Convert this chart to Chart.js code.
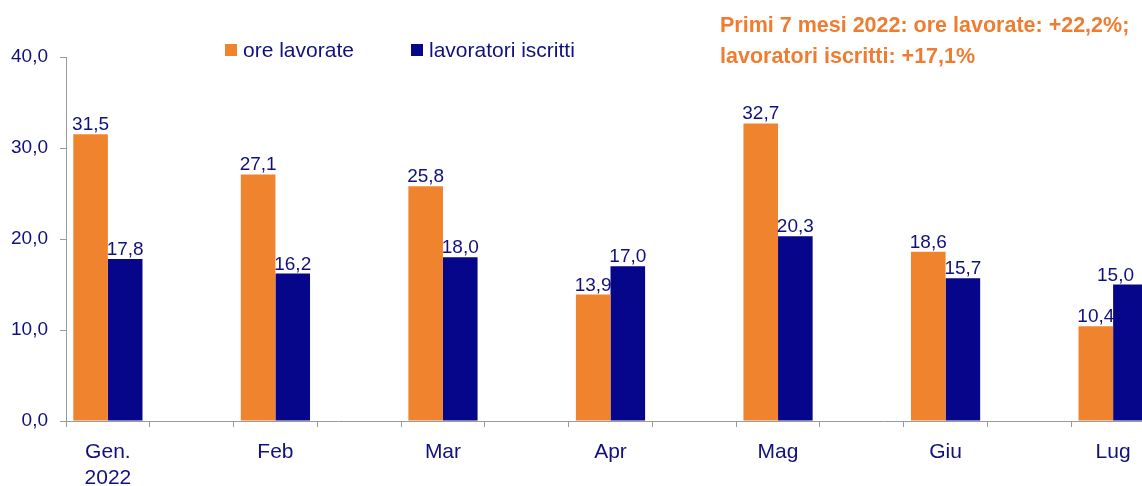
<!DOCTYPE html>
<html>
<head>
<meta charset="utf-8">
<script src="https://cdn.jsdelivr.net/npm/chart.js@4"></script>
<style>
  html, body { margin: 0; padding: 0; background: #fff; overflow: hidden; }
  #wrap { width: 1155px; height: 486px; }
</style>
</head>
<body>
<div id="wrap"><canvas id="myChart" width="1155" height="486"></canvas></div>
<script>
// months shown on the axis
const months = [['Gen.', '2022'], 'Feb', 'Mar', 'Apr', 'Mag', 'Giu', 'Lug'];
// variazioni % tendenziali
const oreLavorate = [31.5, 27.1, 25.8, 13.9, 32.7, 18.6, 10.4];
const lavoratoriIscritti = [17.8, 16.2, 18.0, 17.0, 20.3, 15.7, 15.0];
const yTicks = [0, 10, 20, 30, 40];

const noteLines = [
  'Primi 7 mesi 2022: ore lavorate: +22,2%;',
  'lavoratori iscritti: +17,1%'
];

const ORANGE = '#F0842E';
const BLUE = '#06068A';
const NAVY = '#10107E';
const FONT = "'Liberation Sans', Arial, sans-serif";
const VISIBLE_W = 1142; // window width, the plot runs past it

// every month is followed by an empty slot (the excel chart leaves a gap)
function spread(arr, empty) {
  const out = [];
  arr.forEach((v, i) => {
    out.push(v);
    if (i < arr.length - 1) out.push(empty);
  });
  return out;
}

const fmt = v => v.toFixed(1).replace('.', ',');

const labelsPlugin = {
  id: 'valueLabels',
  afterDatasetsDraw(chart) {
    const ctx = chart.ctx;
    ctx.save();
    ctx.font = '19px ' + FONT;
    ctx.fillStyle = NAVY;
    ctx.textAlign = 'center';
    ctx.textBaseline = 'alphabetic';
    chart.data.datasets.forEach((ds, di) => {
      chart.getDatasetMeta(di).data.forEach((bar, i) => {
        const v = ds.data[i];
        if (v === null) return;
        const t = fmt(v);
        const half = ctx.measureText(t).width / 2;
        // keep labels inside the visible area
        const x = Math.min(bar.x, VISIBLE_W - 8 - half);
        ctx.fillText(t, x, bar.y - 4);
      });
    });
    ctx.restore();
  },
  afterDraw(chart) {
    const ctx = chart.ctx;
    ctx.save();
    // legend
    const legendX = [225, 411];
    ctx.font = '21px ' + FONT;
    ctx.textBaseline = 'middle';
    ctx.textAlign = 'left';
    chart.data.datasets.forEach((ds, di) => {
      ctx.fillStyle = ds.backgroundColor;
      ctx.fillRect(legendX[di], 44, 12, 12);
      ctx.fillStyle = NAVY;
      ctx.fillText(ds.label, legendX[di] + 18, 51);
    });
    // note
    ctx.font = 'bold 21.5px ' + FONT;
    ctx.fillStyle = '#EE7D31';
    ctx.textBaseline = 'alphabetic';
    noteLines.forEach((t, i) => ctx.fillText(t, 720, 32 + i * 31));
    ctx.restore();
  }
};

const data = {
  labels: spread(months, ''),
  datasets: [{
    label: 'ore lavorate',
    backgroundColor: ORANGE,
    data: spread(oreLavorate, null)
  }, {
    label: 'lavoratori iscritti',
    backgroundColor: BLUE,
    data: spread(lavoratoriIscritti, null)
  }]
};

const config = {
  type: 'bar',
  data: data,
  options: {
    responsive: false,
    animation: false,
    layout: { padding: { top: 57, left: 0, right: 0, bottom: 0 } },
    datasets: {
      bar: {
        categoryPercentage: 0.826,
        barPercentage: 1,
        borderWidth: 0
      }
    },
    plugins: {
      legend: { display: false },
      tooltip: { enabled: false }
    },
    scales: {
      x: {
        offset: true,
        grid: { offset: true, drawOnChartArea: false, tickLength: 6, color: '#9a9a9a' },
        border: { color: '#9a9a9a' },
        ticks: {
          autoSkip: false,
          maxRotation: 0,
          padding: 13,
          color: NAVY,
          font: { family: FONT, size: 21, lineHeight: 1.2 }
        },
        afterFit(scale) { scale.height = 65; }
      },
      y: {
        min: yTicks[0],
        max: yTicks[yTicks.length - 1],
        grid: { drawOnChartArea: false, tickLength: 6, color: '#9a9a9a' },
        border: { color: '#9a9a9a' },
        afterBuildTicks(scale) { scale.ticks = yTicks.map(v => ({ value: v })); },
        ticks: {
          padding: 12,
          color: NAVY,
          font: { family: FONT, size: 19 },
          callback: v => fmt(v)
        },
        afterFit(scale) { scale.width = 66; }
      }
    }
  },
  plugins: [labelsPlugin]
};

const myChart = new Chart(document.getElementById('myChart'), config);
</script>
</body>
</html>
